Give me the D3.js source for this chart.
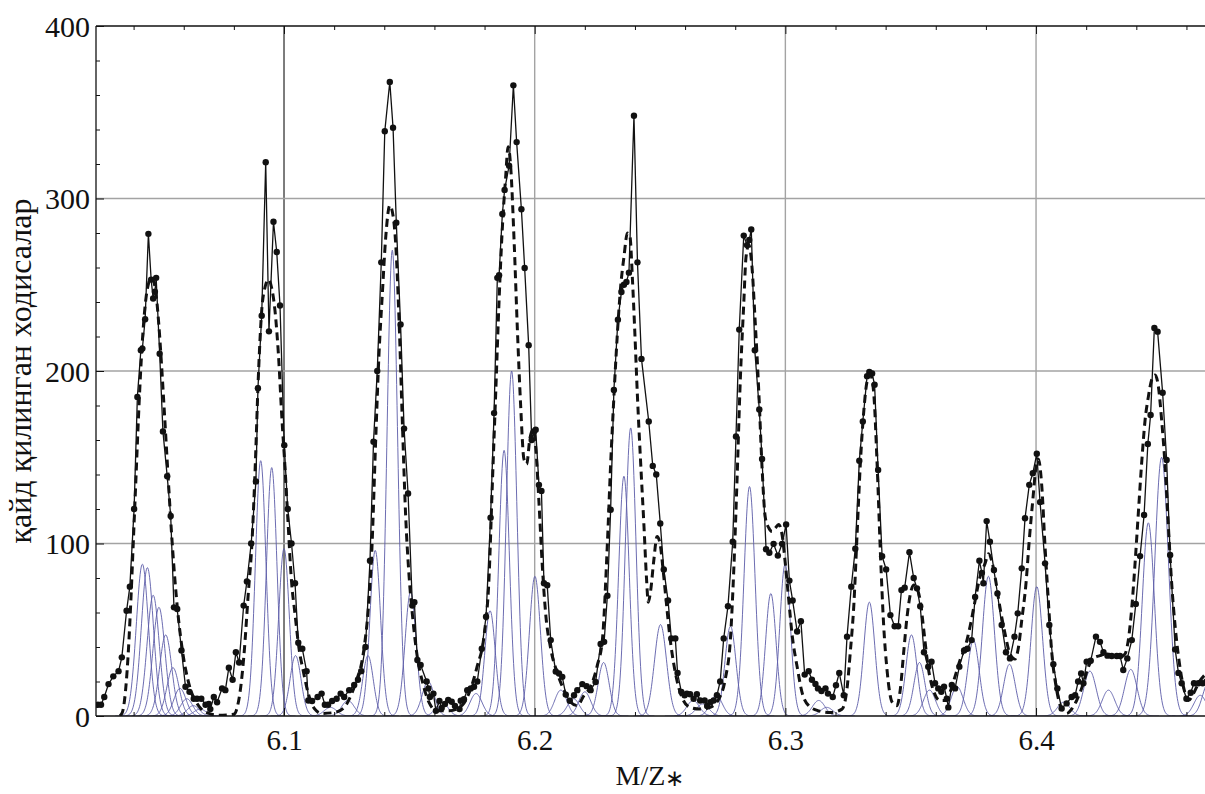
<!DOCTYPE html>
<html><head><meta charset="utf-8">
<script src="https://cdn.jsdelivr.net/npm/d3@7"></script>
<style>body{margin:0;background:#fff;} svg{display:block}</style>
</head><body><svg id="c" width="1205" height="794"></svg>
<script>
// ---- measured data (M/Z, events) ----
const mz = [6.0257,6.0270,6.0283,6.0300,6.0319,6.0340,6.0353,6.0372,6.0385,6.0402,6.0415,6.0429,6.0435,6.0446,6.0459,6.0470,6.0478,6.0485,6.0490,6.0504,6.0517,6.0534,6.0548,6.0561,6.0574,6.0591,6.0607,6.0623,6.0640,6.0653,6.0670,6.0687,6.0700,6.0706,6.0720,6.0733,6.0753,6.0766,6.0780,6.0795,6.0808,6.0821,6.0839,6.0852,6.0869,6.0888,6.0896,6.0911,6.0927,6.0940,6.0958,6.0971,6.0984,6.1001,6.1015,6.1030,6.1044,6.1057,6.1073,6.1090,6.1097,6.1112,6.1134,6.1150,6.1163,6.1176,6.1192,6.1210,6.1226,6.1240,6.1260,6.1280,6.1295,6.1308,6.1325,6.1343,6.1357,6.1372,6.1388,6.1402,6.1422,6.1435,6.1448,6.1465,6.1479,6.1495,6.1512,6.1520,6.1532,6.1545,6.1569,6.1576,6.1582,6.1596,6.1606,6.1620,6.1629,6.1642,6.1655,6.1669,6.1682,6.1700,6.1705,6.1718,6.1731,6.1745,6.1758,6.1771,6.1789,6.1806,6.1824,6.1838,6.1851,6.1858,6.1871,6.1880,6.1898,6.1915,6.1928,6.1947,6.1960,6.1976,6.1988,6.1997,6.2004,6.2017,6.2027,6.2037,6.2050,6.2064,6.2084,6.2097,6.2110,6.2124,6.2140,6.2157,6.2170,6.2190,6.2207,6.2223,6.2243,6.2263,6.2277,6.2290,6.2303,6.2316,6.2332,6.2346,6.2356,6.2366,6.2376,6.2396,6.2410,6.2426,6.2455,6.2471,6.2485,6.2501,6.2515,6.2532,6.2545,6.2561,6.2570,6.2585,6.2598,6.2607,6.2620,6.2634,6.2647,6.2660,6.2678,6.2688,6.2701,6.2714,6.2727,6.2740,6.2754,6.2771,6.2790,6.2803,6.2816,6.2834,6.2847,6.2856,6.2864,6.2878,6.2896,6.2907,6.2923,6.2936,6.2953,6.2970,6.2987,6.3003,6.3016,6.3029,6.3047,6.3062,6.3077,6.3093,6.3106,6.3120,6.3130,6.3144,6.3160,6.3170,6.3189,6.3202,6.3215,6.3233,6.3246,6.3263,6.3279,6.3295,6.3309,6.3326,6.3335,6.3346,6.3356,6.3370,6.3386,6.3402,6.3419,6.3436,6.3450,6.3463,6.3476,6.3495,6.3512,6.3525,6.3538,6.3553,6.3570,6.3583,6.3597,6.3610,6.3622,6.3633,6.3644,6.3650,6.3664,6.3677,6.3694,6.3713,6.3726,6.3743,6.3757,6.3774,6.3784,6.3790,6.3803,6.3816,6.3832,6.3846,6.3863,6.3880,6.3896,6.3914,6.3927,6.3943,6.3956,6.3973,6.3987,6.4003,6.4016,6.4036,6.4053,6.4069,6.4085,6.4102,6.4122,6.4142,6.4156,6.4168,6.4180,6.4189,6.4202,6.4218,6.4239,6.4255,6.4269,6.4285,6.4302,6.4322,6.4335,6.4348,6.4364,6.4382,6.4398,6.4415,6.4431,6.4446,6.4457,6.4472,6.4485,6.4505,6.4521,6.4535,6.4555,6.4568,6.4581,6.4600,6.4617,6.4630,6.4648,6.4665,6.4680];
const counts = [6.5,6.5,11,18.5,23,26,34,61,75,120,185,212,213,230,279.5,253,242,246,254,210,165,139,116,63,62,38,17,14,10,10,10,6.5,7,4,11,8,16,15,28,21,37,31,64,78,100,136,190,232,321,223,286.5,269,238,157,120,100,77,42.5,39,26,9,8.7,11,13,6.5,6.5,8.7,10,13,11,15,18,21,26,40,90,159,200,263,339,367.6,341,286,227,166.6,129,64,66,32.5,29.6,20,16,11,13,3,8.7,4.6,7,9.3,8.3,5.8,4,8.9,9.7,15,16,17,20,39,57.6,115,175.6,254,255.5,291,305,319,365.6,332.7,293.8,259.7,215,160,165,166,134,130.5,77,75.8,44,25.8,24.6,22.7,12.4,8.8,12,15,18.5,17.3,15,19.7,41.7,43,69.7,119.6,189,229.7,245.8,250,251.6,257,348,263,207,170.7,145,140,111.6,85,67,45,45,25,14,12,13,12.6,10,12.6,9,9,5.8,8,9,12,20,45,63.6,101,162,224,278.5,273,276,282,212,177.7,149,96.7,94.6,99.8,93,99.8,111,78.5,67,49,55,24,26,21,18.6,16,14.5,16,13,11,17.8,25,12,46,75,97,148,170.7,197,199.4,198.6,192,142.6,92.6,85,58.5,52,52,73,74.4,95,80,74,63.6,37,28.6,31.5,19,16,14,17,10,5,18,16,28.6,38,39,44,69,90,83,77,113,101,84.6,71,52.8,37,33.4,46,59.5,85.6,114.6,134,140.7,152,124,88.5,52.8,30,16,4.4,7.3,11,12,20,24.7,19,31.5,32,46,43,37,35,34.8,34.8,34.8,26.7,33.4,44,65,92.7,116.5,157.7,174.5,225,222.8,187.4,148.4,93.3,38.6,25,19,10,13.5,19,19,19,20];

// ---- fitted envelope (dashed) ----
const fitMz = [6.0345,6.0355,6.0368,6.0380,6.0390,6.0400,6.0410,6.0420,6.0430,6.0440,6.0450,6.0460,6.0470,6.0480,6.0490,6.0500,6.0510,6.0520,6.0530,6.0540,6.0550,6.0560,6.0570,6.0580,6.0590,6.0600,6.0615,6.0630,6.0650,6.0670,6.0700,6.0740,6.0800,6.0815,6.0830,6.0840,6.0858,6.0872,6.0885,6.0898,6.0911,6.0925,6.0938,6.0951,6.0964,6.0978,6.0991,6.1004,6.1015,6.1030,6.1044,6.1060,6.1077,6.1097,6.1123,6.1150,6.1200,6.1240,6.1270,6.1290,6.1310,6.1320,6.1335,6.1350,6.1366,6.1379,6.1392,6.1406,6.1422,6.1435,6.1445,6.1459,6.1472,6.1485,6.1499,6.1512,6.1532,6.1552,6.1578,6.1610,6.1660,6.1700,6.1718,6.1745,6.1771,6.1798,6.1818,6.1831,6.1844,6.1858,6.1871,6.1884,6.1894,6.1904,6.1918,6.1931,6.1944,6.1957,6.1968,6.1981,6.1995,6.2004,6.2017,6.2030,6.2044,6.2064,6.2090,6.2117,6.2144,6.2170,6.2197,6.2223,6.2250,6.2270,6.2290,6.2303,6.2316,6.2330,6.2343,6.2356,6.2370,6.2380,6.2390,6.2399,6.2410,6.2423,6.2436,6.2446,6.2453,6.2462,6.2475,6.2488,6.2500,6.2512,6.2525,6.2540,6.2555,6.2570,6.2590,6.2620,6.2660,6.2700,6.2735,6.2761,6.2781,6.2794,6.2807,6.2820,6.2834,6.2843,6.2854,6.2867,6.2878,6.2894,6.2907,6.2920,6.2934,6.2947,6.2960,6.2973,6.2987,6.3000,6.3013,6.3027,6.3047,6.3066,6.3093,6.3133,6.3180,6.3226,6.3246,6.3259,6.3273,6.3286,6.3299,6.3313,6.3326,6.3339,6.3352,6.3366,6.3379,6.3392,6.3406,6.3426,6.3445,6.3459,6.3472,6.3485,6.3499,6.3512,6.3525,6.3539,6.3552,6.3570,6.3590,6.3617,6.3640,6.3660,6.3677,6.3697,6.3717,6.3737,6.3757,6.3777,6.3797,6.3810,6.3823,6.3836,6.3856,6.3876,6.3896,6.3916,6.3930,6.3943,6.3960,6.3973,6.3987,6.4000,6.4009,6.4023,6.4036,6.4049,6.4062,6.4080,6.4096,6.4122,6.4142,6.4162,6.4189,6.4209,6.4229,6.4255,6.4282,6.4309,6.4335,6.4355,6.4368,6.4382,6.4395,6.4408,6.4422,6.4435,6.4448,6.4461,6.4475,6.4488,6.4501,6.4515,6.4528,6.4541,6.4555,6.4572,6.4588,6.4608,6.4628,6.4648,6.4668,6.4690];
const fitCounts = [0,2,15,40,70,105,140,175,205,228,243,251,254,252,244,228,207,183,158,133,109,88,70,55,43,33,22,14,8,4,1.5,0.5,1,6,20,35,72,100,144,198,235,249,253,248,235,209,174,144,115,78,59,39,26,13,4,1.5,2,5,13,21,31,40,60,95,161,210,244,278,296,290,275,229,171,117,81,59,34,20,8,3,3,5,7.5,16,29,46.5,80.6,134,185,241,283,312,330,319,275,224,180,149,146,161,166,156,124,88,59,39,25,15,8,6,12,17,29.5,44,100,146,185,222,249,266,280,278,253,224,185,146,110,80,66,72,90,104,100,85,66,45,30,19,10,5,4,5,10,22,45,84,136,194,239,266,273,260,233,188,144,115,109,107,109,111,105,88,68,47,28.5,14,6,3,2,4,16,37,64,105,146,177,194,198,188,146,95,53,26,8,6,16,37,57,71,76,74,66,50,28,15,9,9,15,23,32.5,40,52,67,81,88.5,94,90,81,63,48,36,33,40,55.6,77,102,125,144.5,149,133,98,67,38,17,6.4,1.5,4,9,19,28.6,33.4,35,36,35,34,36,44,63,88.5,117.5,148,171.6,185,194.8,197.7,191,171.6,144.5,109.7,77,51.8,30.5,17,9,13,19,23,25];

// ---- Gaussian components (centre, height, width) ----
const compCenter = [6.0435,6.0455,6.0478,6.0501,6.0528,6.0557,6.0585,6.0612,6.0638,6.0665,6.0907,6.0951,6.1000,6.1046,6.1185,6.1255,6.1335,6.1364,6.1432,6.1505,6.1575,6.1630,6.1766,6.1822,6.1878,6.1908,6.2001,6.2104,6.2155,6.2200,6.2275,6.2356,6.2383,6.2502,6.2632,6.2670,6.2724,6.2781,6.2857,6.2942,6.2999,6.3133,6.3165,6.3335,6.3503,6.3535,6.3575,6.3685,6.3750,6.3810,6.3894,6.4003,6.4110,6.4215,6.4289,6.4378,6.4448,6.4501,6.4655,6.4690];
const compHeight = [88,86,70,63,47,28,16,10,6,4,148,144,97,35,5,9,35,96,270,72,20,8,13,61,154,200,81,15,10,14,31,139,167,53,9,7,12,52,133,71,88,9,5,66,47,31,15,17,44,81,30,75,8,26,15,27,112,150,12,20];
const compWidth = [0.0024,0.0024,0.0024,0.0024,0.0024,0.0024,0.0024,0.0024,0.0024,0.0024,0.0021,0.0021,0.0021,0.0022,0.0025,0.0025,0.0021,0.0021,0.0021,0.0022,0.0024,0.0024,0.0024,0.0021,0.0021,0.0021,0.0022,0.0024,0.0024,0.0024,0.0022,0.0021,0.0021,0.0024,0.0025,0.0025,0.0024,0.0022,0.0022,0.0021,0.0021,0.0025,0.0025,0.0022,0.0022,0.0022,0.0024,0.0024,0.0023,0.0024,0.0023,0.0023,0.0025,0.0025,0.0025,0.0025,0.0024,0.0027,0.0025,0.0025];

// ---- axes ----
const xMajorTicks = [6.1,6.2,6.3,6.4];
const xTickLabels = ["6.1","6.2","6.3","6.4"];
const xMinorTicks = [6.04,6.06,6.08,6.12,6.14,6.16,6.18,6.22,6.24,6.26,6.28,6.32,6.34,6.36,6.38,6.42,6.44,6.46];
const yMajorTicks = [0,100,200,300,400];
const yTickLabels = ["0","100","200","300","400"];
const yMinorTicks = [20,40,60,80,120,140,160,180,220,240,260,280,320,340,360,380];
const xTitle = "M/Z";
const xTitleMark = "\u2217";
const yTitle = "қайд қилинган ходисалар";

const L = 96, R = 1205, T = 26, B = 716;
const FONT = "'Liberation Serif','Times New Roman',serif";
const svg = d3.select("#c");
const x = d3.scaleLinear().domain([6.025, 6.4674]).range([L, R]);
const y = d3.scaleLinear().domain([0, 400]).range([B, T]);

svg.append("defs").append("clipPath").attr("id","clip")
  .append("rect").attr("x",L).attr("y",T-2).attr("width",R-L).attr("height",B-T+2);

// grid lines
const grid = svg.append("g");
grid.selectAll("line.gx").data(xMajorTicks).join("line")
  .attr("x1",d=>x(d)).attr("x2",d=>x(d)).attr("y1",T).attr("y2",B)
  .attr("stroke",d=>d===6.1?"#111":"#a3a3a3").attr("stroke-width",d=>d===6.1?1.1:1.4);
grid.selectAll("line.gy").data(yMajorTicks.filter(d=>d>0&&d<400)).join("line")
  .attr("x1",L).attr("x2",R).attr("y1",d=>y(d)).attr("y2",d=>y(d))
  .attr("stroke","#a3a3a3").attr("stroke-width",1.4);

const plot = svg.append("g").attr("clip-path","url(#clip)");

// Gaussian components
const comps = compCenter.map((c,i)=>({c, h:compHeight[i], s:compWidth[i]}));
const compLine = d3.line().x(d=>x(d[0])).y(d=>y(d[1]));
plot.append("g").selectAll("path").data(comps).join("path")
  .attr("d", d => {
    const pts = d3.range(0,121).map(k => {
      const xv = d.c - 4.5*d.s + k*(9*d.s/120);
      return [xv, d.h*Math.exp(-((xv-d.c)**2)/(2*d.s*d.s))];
    });
    return compLine(pts);
  })
  .attr("fill","none").attr("stroke","#5c5ca8").attr("stroke-width",1).attr("stroke-opacity",0.9);

// measured line + points
const data = mz.map((m,i)=>[m,counts[i]]);
plot.append("path").datum(data)
  .attr("d", d3.line().x(d=>x(d[0])).y(d=>y(d[1])))
  .attr("fill","none").attr("stroke","#111").attr("stroke-width",1.3);
plot.append("g").selectAll("circle").data(data).join("circle")
  .attr("cx",d=>x(d[0])).attr("cy",d=>y(d[1])).attr("r",3.2).attr("fill","#111");

// dashed fit
const fit = fitMz.map((m,i)=>[m,fitCounts[i]]);
plot.append("path").datum(fit)
  .attr("d", d3.line().curve(d3.curveMonotoneX).x(d=>x(d[0])).y(d=>y(d[1])))
  .attr("fill","none").attr("stroke","#111").attr("stroke-width",3)
  .attr("stroke-dasharray","8,5");

// frame
const frame = svg.append("g").attr("stroke","#111").attr("stroke-width",1.3);
frame.append("line").attr("x1",L).attr("x2",L).attr("y1",T).attr("y2",B);
frame.append("line").attr("x1",L).attr("x2",R).attr("y1",B).attr("y2",B);
frame.append("line").attr("x1",L).attr("x2",R).attr("y1",T).attr("y2",T);

// axes (inward ticks)
function styleAxis(g){ g.select(".domain").remove(); g.selectAll("line").attr("stroke","#111").attr("stroke-width",1); }
svg.append("g").attr("transform",`translate(${L},0)`)
  .call(d3.axisLeft(y).tickValues(yMajorTicks).tickSize(-8).tickPadding(6).tickFormat((d,i)=>yTickLabels[i]))
  .call(styleAxis)
  .call(g=>g.selectAll("text").attr("font-family",FONT).attr("font-size",30).attr("fill","#111").attr("dy","0.34em"));
svg.append("g").attr("transform",`translate(${L},0)`)
  .call(d3.axisLeft(y).tickValues(yMinorTicks).tickSize(-4).tickFormat(""))
  .call(styleAxis);
svg.append("g").attr("transform",`translate(0,${B})`)
  .call(d3.axisBottom(x).tickValues(xMajorTicks).tickSize(-8).tickPadding(13).tickFormat((d,i)=>xTickLabels[i]))
  .call(styleAxis)
  .call(g=>g.selectAll("text").attr("font-family",FONT).attr("font-size",29).attr("fill","#111").attr("dy","0.71em"));
svg.append("g").attr("transform",`translate(0,${B})`)
  .call(d3.axisBottom(x).tickValues(xMinorTicks).tickSize(-4).tickFormat(""))
  .call(styleAxis);
svg.append("g").attr("transform",`translate(0,${T})`)
  .call(d3.axisTop(x).tickValues(xMajorTicks).tickSize(-8).tickFormat(""))
  .call(styleAxis);
svg.append("g").attr("transform",`translate(0,${T})`)
  .call(d3.axisTop(x).tickValues(xMinorTicks).tickSize(-4).tickFormat(""))
  .call(styleAxis);

// titles
const xt = svg.append("text").attr("x",650).attr("y",785).attr("text-anchor","middle")
  .attr("font-family",FONT).attr("font-size",28).attr("fill","#111");
xt.append("tspan").text(xTitle);
xt.append("tspan").attr("font-size",23).attr("dy","1").text(xTitleMark);
svg.append("text").attr("transform","translate(31,371) rotate(-90)").attr("text-anchor","middle")
  .attr("font-family",FONT).attr("font-size",32).attr("fill","#111").text(yTitle);
</script></body></html>
